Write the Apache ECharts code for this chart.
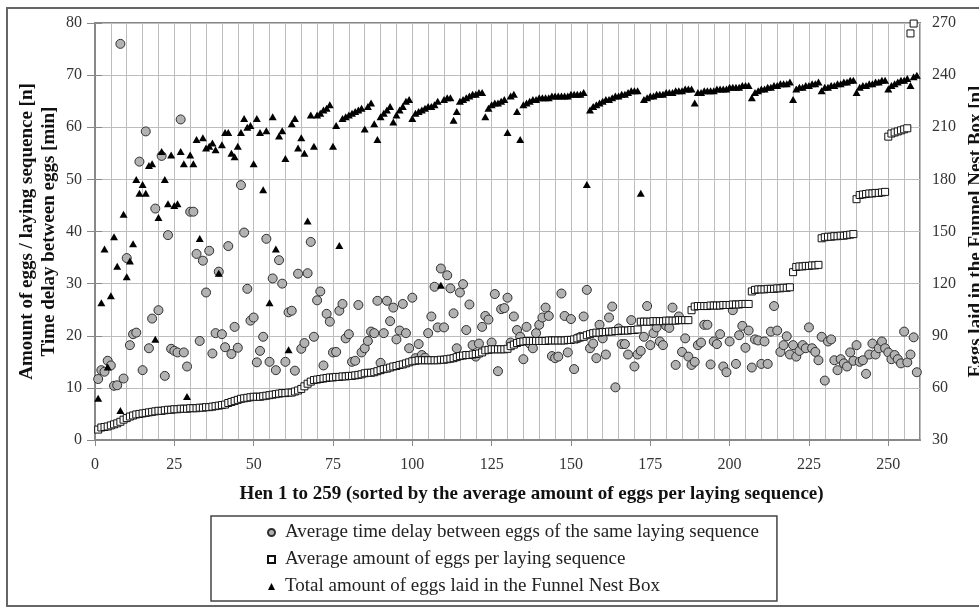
<!DOCTYPE html>
<html>
<head>
<meta charset="utf-8">
<script src="https://cdn.jsdelivr.net/npm/echarts@6/dist/echarts.min.js"></script>
<style>
  html, body { margin: 0; padding: 0; background: #fff; }
  #chart { width: 979px; height: 609px; }
</style>
</head>
<body>
<div id="chart"></div>
<script>
// Average time delay between eggs of the same laying sequence [min], hen 1..259
var delayMin = [
  11.7, 13.4, 13.1, 15.2, 14.3, 10.4, 10.5, 76, 11.8, 34.9,
  18.2, 20.3, 20.6, 53.4, 13.4, 59.2, 17.6, 23.3, 44.4, 24.9,
  54.5, 12.3, 39.3, 17.5, 17.1, 16.8, 61.5, 16.8, 14.1, 43.8,
  43.8, 35.7, 19, 34.4, 28.3, 36.3, 16.6, 20.5, 32.3, 20.3,
  17.8, 37.2, 16.5, 21.7, 17.7, 48.9, 39.8, 29, 22.9, 23.5,
  14.9, 17.1, 19.8, 38.6, 15, 31, 13.4, 34.5, 30, 15,
  24.5, 24.8, 13.3, 31.9, 17.5, 18.6, 32, 38, 19.8, 26.8,
  28.5, 14.3, 24.2, 22.7, 16.8, 16.9, 24.8, 26.1, 19.5, 20.3,
  15, 15.2, 25.9, 16.8, 17.6, 19, 20.8, 20.5, 26.7, 14.8,
  20.5, 26.7, 22.8, 25.4, 19.3, 21, 26.1, 20.5, 17.6, 27.3,
  15.7, 18.4, 16.3, 15.8, 20.5, 23.7, 29.4, 21.6, 32.9, 21.6,
  31.6, 29.1, 24.3, 17.6, 28.3, 29.9, 21.1, 26, 18.2, 16,
  18.5, 21.7, 23.8, 23.1, 18.7, 28, 13.2, 25.1, 25.3, 27.3,
  18.7, 23.7, 21.1, 19.8, 15.5, 21.7, 18.5, 17.6, 20.5, 22.1,
  23.5, 25.4, 23.8, 16.1, 15.7, 16, 28.1, 23.8, 16.8, 23.2,
  13.6, 19.5, 19.8, 23.7, 28.8, 17.6, 18.5, 15.7, 22.1, 19.5,
  16.4, 23.5, 25.6, 10.1, 21.4, 18.4, 18.4, 16.4, 23, 14.1,
  16.4, 17.1, 19.8, 25.7, 18.2, 20.5, 21.6, 18.9, 18.2, 21.9,
  21.5, 25.4, 14.4, 23.7, 16.9, 19.5, 16, 14.4, 15, 18.2,
  18.7, 22.1, 22.1, 14.5, 18.9, 18.4, 20.3, 14.1, 13, 18.9,
  24.9, 14.6, 20.1, 21.9, 17.7, 21, 13.9, 19.3, 19.1, 14.6,
  18.9, 14.6, 20.8, 25.7, 21, 16.9, 18.2, 19.9, 16.4, 18.2,
  16, 17.1, 18.2, 17.6, 21.6, 17.6, 16.9, 15.3, 19.8, 11.4,
  18.9, 19.3, 15.3, 13.4, 15.5, 14.7, 14.1, 16.8, 15.2, 18.2,
  15, 15.3, 12.7, 16.4, 18.5, 16.4, 17.6, 18.9, 17.6, 16.8,
  15.5, 16.3, 15.5, 14.7, 20.8, 14.9, 16.4, 19.7, 13
];

// Average amount of eggs per laying sequence [n]
var eggsPerSeq = [
  2.0, 2.4, 2.5, 2.6, 2.8, 3.0, 3.2, 3.5, 3.9, 4.2,
  4.5, 4.7, 4.9, 5.0, 5.1, 5.2, 5.3, 5.4, 5.5, 5.6,
  5.6, 5.7, 5.8, 5.8, 5.9, 5.9, 6.0, 6.0, 6.0, 6.1,
  6.1, 6.1, 6.2, 6.2, 6.3, 6.3, 6.4, 6.5, 6.6, 6.7,
  6.8, 7.1, 7.3, 7.5, 7.7, 7.9, 8.0, 8.1, 8.2, 8.3,
  8.3, 8.3, 8.4, 8.5, 8.6, 8.7, 8.8, 8.9, 9.0, 9.0,
  9.1, 9.1, 9.3, 9.5, 9.8, 10.3, 10.8, 11.2, 11.5, 11.6,
  11.7, 11.8, 11.9, 12.0, 12.0, 12.1, 12.1, 12.2, 12.2, 12.3,
  12.3, 12.4, 12.5, 12.6, 12.8, 12.9, 12.9, 13.0, 13.2, 13.4,
  13.6, 13.7, 13.9, 14.1, 14.2, 14.4, 14.5, 14.7, 14.9, 15.1,
  15.2, 15.3, 15.3, 15.3, 15.3, 15.3, 15.3, 15.3, 15.4, 15.4,
  15.5, 15.6, 15.7, 15.9, 16.1, 16.2, 16.3, 16.3, 16.4, 16.5,
  16.6, 16.8, 17.2, 17.3, 17.4, 17.4, 17.4, 17.4, 17.4, 17.5,
  18.0, 18.3, 18.6, 18.8, 18.9, 19.0, 19.0, 19.0, 19.0, 19.0,
  19.0, 19.0, 19.1, 19.1, 19.1, 19.1, 19.1, 19.1, 19.2, 19.2,
  19.3, 19.5, 19.7, 19.8, 20.1, 20.3, 20.5, 20.6, 20.6, 20.7,
  20.7, 20.8, 20.8, 20.9, 20.9, 21.0, 21.0, 21.0, 21.1, 21.1,
  21.2, 22.7, 22.7, 22.7, 22.7, 22.8, 22.8, 22.8, 22.8, 22.9,
  22.9, 22.9, 22.9, 23.0, 23.0, 23.0, 23.0, 24.9, 25.6, 25.7,
  25.7, 25.7, 25.7, 25.8, 25.8, 25.8, 25.8, 25.9, 25.9, 25.9,
  26.0, 26.0, 26.0, 26.1, 26.1, 26.1, 28.5, 28.8, 28.9, 28.9,
  28.9, 29.0, 29.0, 29.0, 29.1, 29.1, 29.2, 29.2, 29.3, 32.2,
  33.2, 33.3, 33.3, 33.4, 33.4, 33.5, 33.5, 33.6, 38.7, 38.9,
  39.0, 39.0, 39.1, 39.1, 39.2, 39.2, 39.3, 39.4, 39.5, 46.2,
  47.0, 47.1, 47.2, 47.3, 47.3, 47.4, 47.4, 47.5, 47.6, 58.2,
  58.8, 59.0, 59.2, 59.4, 59.6, 59.8, 78.0, 79.9, null
];

// Total amount of eggs laid in the Funnel Nest Box [n] (right axis)
var nestBoxEggs = [
  54, 109, 140, 72, 113, 147, 130, 47, 160, 124,
  133, 143, 180, 172, 177, 172, 188, 189, 88, 158,
  196, 180, 166, 194, 165, 166, 196, 189, 55, 194,
  189, 203, 146, 204, 198, 199, 201, 197, 126, 200,
  207, 207, 195, 193, 199, 207, 215, 210, 211, 189,
  215, 207, 174, 208, 109, 216, 140, 205, 208, 192,
  82, 212, 215, 198, 204, 195, 156, 217, 199, 217,
  218, 220, 221, 223, 199, 211, 142, 215, 216, 217,
  218, 219, 220, 221, 209, 222, 224, 212, 203, 216,
  218, 220, 222, 213, 217, 220, 222, 225, 226, 215,
  218, 219, 220, 221, 222, 222, 223, 225, 119, 226,
  227, 227, 214, 219, 225, 226, 227, 228, 229, 229,
  230, 230, 216, 221, 223, 224, 224, 225, 226, 207,
  228, 229, 219, 203, 223, 224, 225, 226, 226, 227,
  227, 227, 227, 228, 228, 228, 228, 228, 228, 229,
  229, 229, 229, 230, 177, 220, 222, 223, 224, 225,
  226, 226, 227, 228, 228, 229, 229, 230, 231, 231,
  231, 172, 226, 227, 228, 228, 229, 229, 229, 230,
  230, 230, 231, 231, 231, 232, 232, 232, 224, 230,
  230, 231, 231, 231, 231, 232, 232, 232, 232, 233,
  233, 233, 233, 234, 234, 234, 227, 230, 231, 232,
  232, 233, 233, 234, 234, 235, 235, 235, 236, 226,
  232, 233, 233, 234, 234, 235, 235, 236, 231, 233,
  233, 234, 234, 235, 235, 236, 236, 237, 237, 230,
  233, 234, 234, 235, 235, 236, 236, 237, 237, 232,
  234, 235, 236, 237, 237, 238, 234, 239, 240
];

var seriesNames = [
  'Average time delay between eggs of the same laying sequence',
  'Average amount of eggs per laying sequence',
  'Total amount of eggs laid in the Funnel Nest Box'
];

function toPoints(arr) {
  var out = [];
  for (var i = 0; i < arr.length; i++) {
    out.push([i + 1, arr[i]]);   // hen number on x
  }
  return out;
}

var serif = 'Liberation Serif, Times New Roman, serif';
var gridGray = '#bdbdbd';
var axisGray = '#888888';

var chart = echarts.init(document.getElementById('chart'));
chart.setOption({
  animation: false,
  textStyle: { fontFamily: serif },
  grid: {
    left: 95, top: 23, right: 59, bottom: 169,
    outerBoundsMode: 'none',
    show: true, borderColor: axisGray, borderWidth: 2
  },
  graphic: [{
    type: 'rect',
    silent: true,
    shape: { x: 7, y: 8, width: 1000, height: 598 },
    style: { fill: 'none', stroke: '#666', lineWidth: 2 }
  }],
  legend: {
    orient: 'vertical',
    left: 211, top: 516,
    padding: [7, 18, 5, 56],
    itemGap: 8,
    itemWidth: 7, itemHeight: 7,
    borderColor: '#444', borderWidth: 1.5,
    textStyle: { fontSize: 19, color: '#222', fontFamily: serif, padding: [0, 0, 0, 5] },
    data: seriesNames
  },
  xAxis: [{
    type: 'value',
    min: 0, max: 260, interval: 25,
    name: 'Hen 1 to 259 (sorted by the average amount of eggs per laying sequence)',
    nameLocation: 'middle',
    nameGap: 45,
    nameMoveOverlap: false,
    nameTextStyle: { fontWeight: 'bold', fontSize: 19, color: '#111', padding: [0, 0, 0, 48] },
    axisLine: { lineStyle: { color: axisGray, width: 2 } },
    axisTick: { show: true, length: 6, lineStyle: { color: axisGray } },
    axisLabel: { margin: 17, fontSize: 16, color: '#333', showMaxLabel: false },
    splitLine: { show: false }
  }, {
    // minor vertical grid every 5 hens
    type: 'value',
    min: 0, max: 260, interval: 5,
    position: 'bottom',
    axisLine: { show: false },
    axisTick: { show: false },
    axisLabel: { show: false },
    splitLine: { show: true, lineStyle: { color: gridGray, width: 1 } }
  }],
  yAxis: [{
    type: 'value',
    min: 0, max: 80, interval: 10,
    name: 'Amount of eggs / laying sequence [n]\nTime delay between eggs [min]',
    nameLocation: 'middle',
    nameRotate: 90,
    nameGap: 35,
    nameMoveOverlap: false,
    nameTextStyle: { fontWeight: 'bold', fontSize: 19, color: '#111', lineHeight: 22 },
    axisLine: { show: true, lineStyle: { color: axisGray, width: 2 } },
    axisTick: { show: true, length: 8, lineStyle: { color: axisGray } },
    axisLabel: { margin: 13, fontSize: 16, color: '#333' },
    splitLine: { show: true, lineStyle: { color: gridGray, width: 1 } }
  }, {
    type: 'value',
    position: 'right',
    min: 30, max: 270, interval: 30,
    name: 'Eggs laid in the Funnel Nest Box [n]',
    nameLocation: 'middle',
    nameRotate: 90,
    nameGap: 47,
    nameMoveOverlap: false,
    nameTextStyle: { fontWeight: 'bold', fontSize: 19, color: '#111' },
    axisLine: { show: true, lineStyle: { color: axisGray, width: 2 } },
    axisTick: { show: true, length: 7, lineStyle: { color: axisGray } },
    axisLabel: { margin: 12, fontSize: 16, color: '#333' },
    splitLine: { show: false }
  }],
  series: [{
    name: seriesNames[0],
    type: 'scatter',
    xAxisIndex: 0, yAxisIndex: 0,
    symbol: 'circle',
    symbolSize: 9,
    clip: false,
    itemStyle: { color: '#b2b2b2', borderColor: '#2e2e2e', borderWidth: 1, opacity: 1 },
    data: toPoints(delayMin)
  }, {
    name: seriesNames[1],
    type: 'scatter',
    xAxisIndex: 0, yAxisIndex: 0,
    symbol: 'rect',
    symbolSize: 7,
    clip: false,
    itemStyle: { color: '#ffffff', borderColor: '#111', borderWidth: 1, opacity: 1 },
    data: toPoints(eggsPerSeq)
  }, {
    name: seriesNames[2],
    type: 'scatter',
    xAxisIndex: 0, yAxisIndex: 1,
    symbol: 'triangle',
    symbolSize: [8, 7],
    clip: false,
    itemStyle: { color: '#000', opacity: 1 },
    data: toPoints(nestBoxEggs)
  }]
});
</script>
</body>
</html>
